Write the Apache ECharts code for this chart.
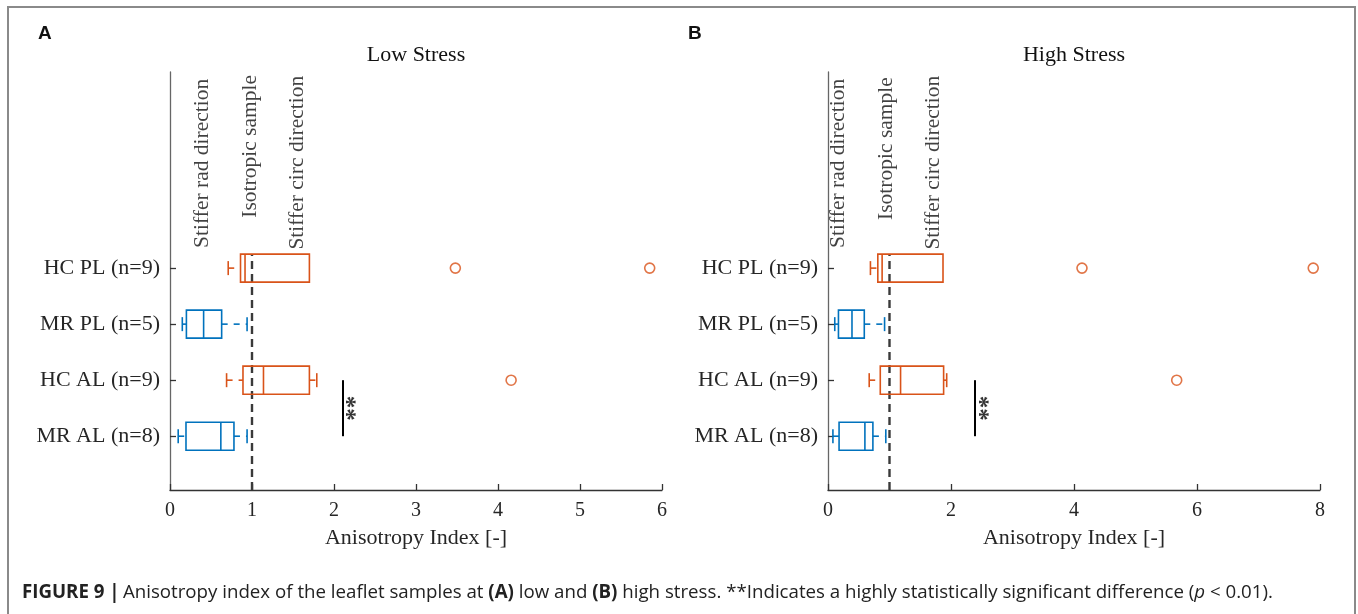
<!DOCTYPE html>
<html>
<head>
<meta charset="utf-8">
<script src="https://cdn.jsdelivr.net/npm/echarts@6/dist/echarts.min.js"></script>
<style>
html,body{margin:0;padding:0;background:#fff;}
#chart{width:1358px;height:614px;}
</style>
</head>
<body>
<div id="chart"></div>
<script>
// ---------- DATA ----------
// category order bottom -> top (y positions 1..4)
const categories = ['MR AL (n=8)', 'HC AL (n=9)', 'MR PL (n=5)', 'HC PL (n=9)'];
// box stats per category: [lower whisker, Q1, median, Q3, upper whisker]
const lowStressBoxes = [
  [0.10, 0.195, 0.62, 0.78, 0.94],
  [0.69, 0.89, 1.14, 1.70, 1.79],
  [0.15, 0.20, 0.41, 0.63, 0.94],
  [0.71, 0.86, 0.915, 1.70, 1.70]
];
const highStressBoxes = [
  [0.08, 0.18, 0.60, 0.73, 0.94],
  [0.67, 0.85, 1.18, 1.88, 1.93],
  [0.11, 0.17, 0.39, 0.59, 0.92],
  [0.69, 0.81, 0.88, 1.87, 1.87]
];
// outliers: [value, category position]
const lowStressOutliers = [[3.48, 4], [5.85, 4], [4.16, 2]];
const highStressOutliers = [[4.13, 4], [7.89, 4], [5.67, 2]];
// significance bar (between MR AL and HC AL)
const lowStressSigX = 2.11;
const highStressSigX = 2.39;
const sigCats = [1, 2];
const isotropicValue = 1;
const lowStressTicks = [0, 1, 2, 3, 4, 5, 6];
const highStressTicks = [0, 2, 4, 6, 8];
const annotationTexts = ['Stiffer rad direction', 'Isotropic sample', 'Stiffer circ direction'];
const panelTitles = ['Low Stress', 'High Stress'];
const panelLetters = ['A', 'B'];
const xAxisName = 'Anisotropy Index [-]';

// ---------- STYLE / LAYOUT ----------
const BLUE = '#0072BD';
const ORANGE = '#D95319';
const SERIF = '"Liberation Serif", "DejaVu Serif", serif';
const SANS = '"Open Sans", "Liberation Sans", Arial, sans-serif';
const Y_MIN = 0.04, Y_MAX = 7.5;
const BOX_HALF = 0.25;

const panels = [
  {left: 170, boxes: lowStressBoxes, outliers: lowStressOutliers, sigX: lowStressSigX,
   ticks: lowStressTicks, starX: 2.27, annotX: [0.40, 0.975, 1.55], annotY: [4.36, 4.90, 4.33]},
  {left: 828, boxes: highStressBoxes, outliers: highStressOutliers, sigX: highStressSigX,
   ticks: highStressTicks, starX: 2.62, annotX: [0.163, 0.943, 1.72], annotY: [4.36, 4.86, 4.33]}
];
const GRID_TOP = 72, GRID_W = 492, GRID_H = 418;

function renderBox(params, api) {
  const c = api.value(0);
  const lo = api.value(1), q1 = api.value(2), md = api.value(3), q3 = api.value(4), hi = api.value(5);
  const top = api.coord([q1, c + BOX_HALF])[1];
  const bot = api.coord([q1, c - BOX_HALF])[1];
  const yc = api.coord([q1, c])[1];
  const xLo = api.coord([lo, c])[0], xQ1 = api.coord([q1, c])[0], xMd = api.coord([md, c])[0];
  const xQ3 = api.coord([q3, c])[0], xHi = api.coord([hi, c])[0];
  const color = categories[c - 1].indexOf('HC') === 0 ? ORANGE : BLUE;
  const capH = (bot - top) / 4;
  const lw = 1.6;
  const solid = {stroke: color, lineWidth: lw, fill: null};
  const dashed = {stroke: color, lineWidth: lw, fill: null, lineDash: [6, 6]};
  const ch = [
    {type: 'rect', shape: {x: xQ1, y: top, width: xQ3 - xQ1, height: bot - top},
     style: {stroke: color, lineWidth: lw, fill: 'rgba(0,0,0,0)'}},
    {type: 'line', shape: {x1: xMd, y1: top, x2: xMd, y2: bot}, style: solid}
  ];
  if (xQ1 - xLo > 0.5) {
    ch.push({type: 'line', shape: {x1: xLo, y1: yc, x2: xQ1, y2: yc}, style: dashed});
    ch.push({type: 'line', shape: {x1: xLo, y1: yc - capH, x2: xLo, y2: yc + capH}, style: solid});
  }
  if (xHi - xQ3 > 0.5) {
    ch.push({type: 'line', shape: {x1: xQ3, y1: yc, x2: xHi, y2: yc}, style: dashed});
    ch.push({type: 'line', shape: {x1: xHi, y1: yc - capH, x2: xHi, y2: yc + capH}, style: solid});
  }
  return {type: 'group', children: ch};
}

const grid = [], xAxis = [], yAxis = [], series = [];
const graphic = [
  {type: 'rect', shape: {x: 8, y: 7, width: 1347, height: 700}, style: {fill: null, stroke: '#8a8a8a', lineWidth: 2}, silent: true},
  {type: 'text', left: 38, top: 24, style: {text: panelLetters[0], font: 'bold 19px "Liberation Sans", Arial, sans-serif', fill: '#111'}},
  {type: 'text', left: 688, top: 24, style: {text: panelLetters[1], font: 'bold 19px "Liberation Sans", Arial, sans-serif', fill: '#111'}},
  {type: 'text', left: 22, top: 583, style: {
    text: '{b|FIGURE 9 |} {n|Anisotropy index of the leaflet samples at }{b|(A)}{n| low and }{b|(B)}{n| high stress. **Indicates a highly statistically significant difference (}{i|p}{n| < 0.01).}',
    rich: {
      b: {fontFamily: SANS, fontWeight: 'bold', fontSize: 18.7, fill: '#222'},
      n: {fontFamily: SANS, fontSize: 18.7, fill: '#222'},
      i: {fontFamily: SANS, fontStyle: 'italic', fontSize: 18.7, fill: '#222'}
    }
  }}
];
panels.forEach((p, i) => {
  grid.push({left: p.left, top: GRID_TOP, width: GRID_W, height: GRID_H, containLabel: false});
  const step = p.ticks[1] - p.ticks[0];
  xAxis.push({
    type: 'value', gridIndex: i, min: p.ticks[0], max: p.ticks[p.ticks.length - 1], interval: step,
    name: xAxisName, nameLocation: 'middle', nameGap: 37,
    nameTextStyle: {fontFamily: SERIF, fontSize: 22, color: '#262626'},
    axisLine: {show: true, lineStyle: {color: '#333', width: 1.3}},
    axisTick: {show: true, inside: true, length: 6, lineStyle: {color: '#333', width: 1.3}},
    axisLabel: {fontFamily: SERIF, fontSize: 20, color: '#262626', margin: 11},
    splitLine: {show: false}
  });
  yAxis.push({
    type: 'value', gridIndex: i, min: Y_MIN, max: Y_MAX,
    axisLine: {show: true, onZero: false, lineStyle: {color: '#666', width: 1.3}},
    axisTick: {show: true, inside: true, length: 6, customValues: [1, 2, 3, 4], lineStyle: {color: '#333', width: 1.3}},
    axisLabel: {show: true, customValues: [1, 2, 3, 4], margin: 10,
      formatter: v => categories[Math.round(v) - 1] || '',
      fontFamily: SERIF, fontSize: 22, color: '#262626'},
    splitLine: {show: false}
  });
  graphic.push({type: 'text', x: p.left + GRID_W / 2, y: 55,
    style: {text: panelTitles[i], fontFamily: SERIF, fontSize: 22, fill: '#111', align: 'center', verticalAlign: 'middle'}});

  // isotropic dashed line
  series.push({type: 'line', xAxisIndex: i, yAxisIndex: i, symbol: 'none', silent: true,
    data: [[isotropicValue, Y_MIN], [isotropicValue, 4 + BOX_HALF]],
    lineStyle: {color: '#3a3a3a', width: 2.4, type: [8, 5]}, z: 1});
  // boxes
  series.push({type: 'custom', xAxisIndex: i, yAxisIndex: i, renderItem: renderBox,
    data: p.boxes.map((b, k) => [k + 1].concat(b)),
    encode: {x: [1, 2, 3, 4, 5], y: 0}, z: 3});
  // outliers
  series.push({type: 'scatter', xAxisIndex: i, yAxisIndex: i, symbol: 'circle', symbolSize: 10,
    data: p.outliers,
    itemStyle: {color: '#fff', borderColor: ORANGE, borderWidth: 1.6}, z: 4});
  // significance bar
  series.push({type: 'line', xAxisIndex: i, yAxisIndex: i, symbol: 'none',
    data: sigCats.map(c => [p.sigX, c]),
    lineStyle: {color: '#000', width: 2}, z: 4});
  series.push({type: 'scatter', xAxisIndex: i, yAxisIndex: i, symbolSize: 0,
    data: [[p.starX, (sigCats[0] + sigCats[1]) / 2]],
    label: {show: true, position: 'inside', formatter: '**', rotate: 90, align: 'center', verticalAlign: 'middle',
      fontFamily: SERIF, fontWeight: 'bold', fontSize: 25, color: '#000'}, z: 4});
  // rotated annotations
  series.push({type: 'scatter', xAxisIndex: i, yAxisIndex: i, symbolSize: 0,
    data: annotationTexts.map((t, k) => ({value: [p.annotX[k], p.annotY[k]], name: t})),
    label: {show: true, position: 'inside', formatter: '{b}', rotate: 90, align: 'left', verticalAlign: 'middle',
      fontFamily: SERIF, fontSize: 21.5, color: '#111'}, z: 4});
});

const chart = echarts.init(document.getElementById('chart'), null, {renderer: 'canvas'});
chart.setOption({animation: false, backgroundColor: '#fff', grid, xAxis, yAxis, series, graphic});
</script>
</body>
</html>
